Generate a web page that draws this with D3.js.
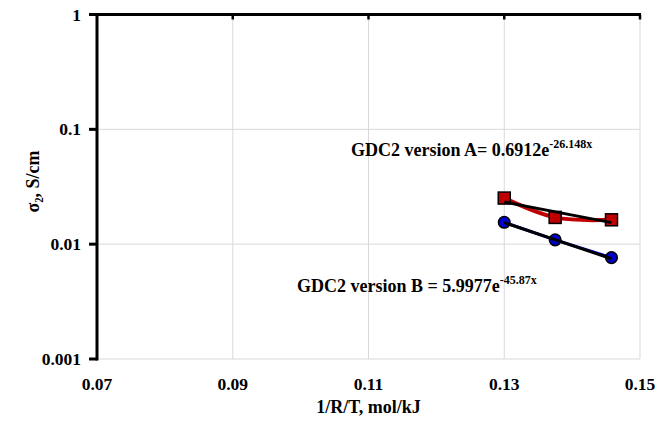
<!DOCTYPE html>
<html lang="en">
<head>
    <meta charset="UTF-8">
    <title>GDC2 conductivity</title>
    <style>
        body {
            margin: 0;
            background: #ffffff;
        }
        svg text {
            font-family: 'Liberation Serif', 'Times New Roman', serif;
            font-weight: bold;
            fill: #000;
        }
        .grid line {
            stroke: #d9d9d9;
            stroke-width: 1px;
        }
    </style>
    <script src="https://d3js.org/d3.v7.min.js"></script>
</head>
<body>
    <svg id="chart" width="672" height="423"></svg>

    <script>
        // 1/(RT) for the three measuring temperatures
        const invRT = [0.1300, 0.1375, 0.1458];
        const seriesA = [0.0252, 0.0171, 0.0163];   // GDC2 version A
        const seriesB = [0.0155, 0.0109, 0.00763];  // GDC2 version B
        // exponential trendlines, read at the first and last point
        const trendX = [0.1300, 0.1458];
        const trendA = [0.0233, 0.0154];
        const trendB = [0.0154, 0.00747];

        const xTicks = [0.07, 0.09, 0.11, 0.13, 0.15];
        const yTicks = [0.001, 0.01, 0.1, 1];
        const xTickLabels = ["0.07", "0.09", "0.11", "0.13", "0.15"];
        const yTickLabels = ["0.001", "0.01", "0.1", "1"];

        const svg = d3.select("#chart");
        const plotL = 97, plotR = 640, plotT = 14.5, plotB = 359;

        const x = d3.scaleLinear().domain([0.07, 0.15]).range([plotL, plotR]);
        const y = d3.scaleLog().domain([0.001, 1]).range([plotB, plotT]);

        // gridlines
        const grid = svg.append("g").attr("class", "grid");
        grid.selectAll(".vx").data(xTicks.slice(1)).enter().append("line")
            .attr("x1", d => x(d)).attr("x2", d => x(d))
            .attr("y1", plotT).attr("y2", plotB);
        grid.selectAll(".hy").data(yTicks.slice(0, 3)).enter().append("line")
            .attr("x1", plotL).attr("x2", plotR)
            .attr("y1", d => y(d)).attr("y2", d => y(d));

        // top axis (x axis crosses at 1) with inner ticks
        svg.append("line")
            .attr("x1", plotL - 1.5).attr("x2", plotR + 1)
            .attr("y1", plotT).attr("y2", plotT)
            .attr("stroke", "#000").attr("stroke-width", 3);
        svg.selectAll(".xt").data(xTicks.slice(1)).enter().append("line")
            .attr("x1", d => x(d)).attr("x2", d => x(d))
            .attr("y1", plotT).attr("y2", plotT + 5)
            .attr("stroke", "#000").attr("stroke-width", 2.5);

        // left axis with outer ticks
        svg.append("line")
            .attr("x1", plotL).attr("x2", plotL)
            .attr("y1", plotT - 1.5).attr("y2", plotB + 1.5)
            .attr("stroke", "#000").attr("stroke-width", 3);
        svg.selectAll(".yt").data(yTicks).enter().append("line")
            .attr("x1", plotL - 8).attr("x2", plotL)
            .attr("y1", d => y(d)).attr("y2", d => y(d))
            .attr("stroke", "#000").attr("stroke-width", 3);

        // tick labels
        svg.selectAll(".yl").data(yTicks).enter().append("text")
            .attr("x", 81)
            .attr("y", d => y(d) + 6)
            .attr("text-anchor", "end")
            .style("font-size", "17.5px")
            .text((d, i) => yTickLabels[i]);

        svg.selectAll(".xl").data(xTicks).enter().append("text")
            .attr("x", d => x(d))
            .attr("y", 389.5)
            .attr("text-anchor", "middle")
            .style("font-size", "17.5px")
            .text((d, i) => xTickLabels[i]);

        // axis titles
        svg.append("text")
            .attr("x", (plotL + plotR) / 2)
            .attr("y", 413)
            .attr("text-anchor", "middle")
            .style("font-size", "18px")
            .text("1/R/T, mol/kJ");

        svg.append("text")
            .attr("transform", "translate(39,181.5) rotate(-90)")
            .attr("text-anchor", "middle")
            .style("font-size", "18px")
            .text("σ₂, S/cm");

        const ptsA = invRT.map((d, i) => [d, seriesA[i]]);
        const ptsB = invRT.map((d, i) => [d, seriesB[i]]);

        // series lines
        svg.append("path")
            .datum(ptsA)
            .attr("fill", "none")
            .attr("stroke", "#c00000")
            .attr("stroke-width", 4)
            .attr("d", d3.line().x(d => x(d[0])).y(d => y(d[1])).curve(d3.curveCatmullRom.alpha(0.5)));

        svg.append("path")
            .datum(ptsB)
            .attr("fill", "none")
            .attr("stroke", "#0000cc")
            .attr("stroke-width", 3)
            .attr("d", d3.line().x(d => x(d[0])).y(d => y(d[1])));

        // markers
        svg.selectAll(".mA").data(ptsA).enter().append("rect")
            .attr("x", d => x(d[0]) - 6)
            .attr("y", d => y(d[1]) - 6)
            .attr("width", 12).attr("height", 12)
            .attr("fill", "#c00000")
            .attr("stroke", "#000").attr("stroke-width", 1.5);

        svg.selectAll(".mB").data(ptsB).enter().append("circle")
            .attr("cx", d => x(d[0]))
            .attr("cy", d => y(d[1]))
            .attr("r", 5.8)
            .attr("fill", "#0000cc")
            .attr("stroke", "#000").attr("stroke-width", 1.5);

        // trendlines on top
        const trendLine = d3.line().x(d => x(d[0])).y(d => y(d[1]));
        [trendA, trendB].forEach(t => {
            svg.append("path")
                .datum(trendX.map((d, i) => [d, t[i]]))
                .attr("fill", "none")
                .attr("stroke", "#000")
                .attr("stroke-width", 3)
                .attr("d", trendLine);
        });

        // equation labels
        function equation(tx, ty, main, sup) {
            const t = svg.append("text")
                .attr("x", tx).attr("y", ty)
                .style("font-size", "18px");
            t.append("tspan").text(main);
            t.append("tspan")
                .attr("dy", -8)
                .style("font-size", "12px")
                .text(sup);
        }
        equation(351, 156, "GDC2 version A= 0.6912e", "-26.148x");
        equation(297, 292, "GDC2 version B = 5.9977e", "-45.87x");
    </script>
</body>
</html>
